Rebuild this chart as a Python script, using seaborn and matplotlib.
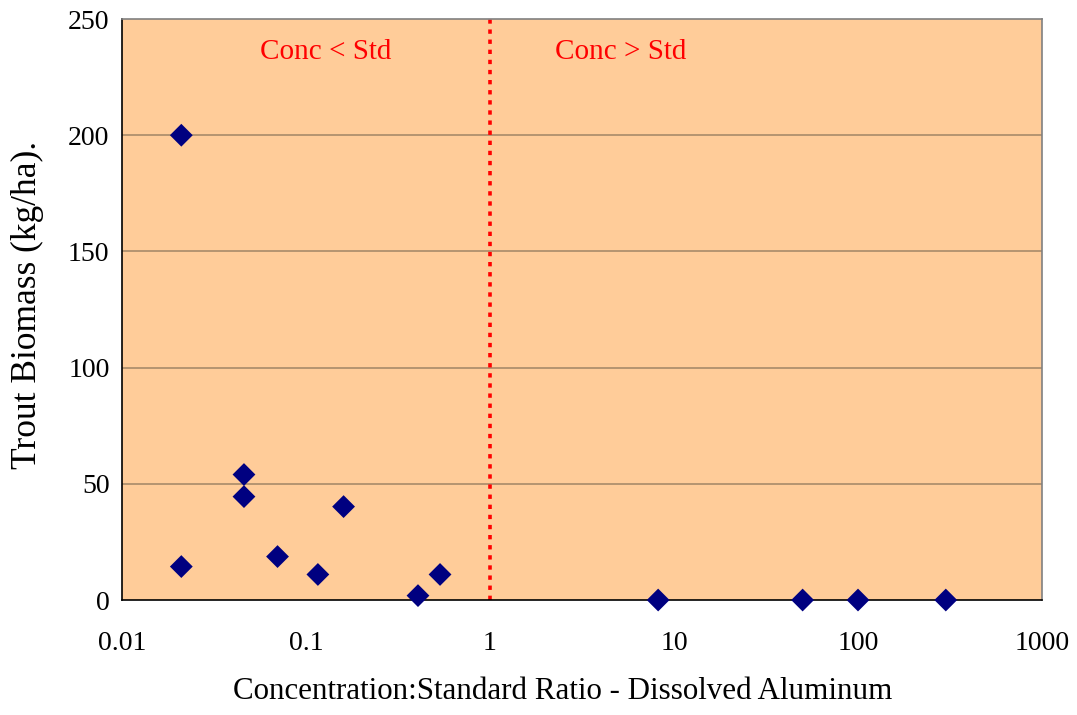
import matplotlib
matplotlib.use("Agg")
import matplotlib.pyplot as plt
import seaborn as sns
import pandas as pd

# Concentration:standard ratio for dissolved aluminum and trout biomass per site
ratio = [0.021, 0.021, 0.046, 0.046, 0.07, 0.116, 0.16, 0.406, 0.535,
         8.2, 50, 100, 300]
biomass = [200, 14.4, 54, 44.5, 18.7, 11, 40.2, 1.9, 11,
           0, 0, 0, 0]
x_ticks = [0.01, 0.1, 1, 10, 100, 1000]
x_tick_labels = ["0.01", "0.1", "1", "10", "100", "1000"]
y_ticks = [0, 50, 100, 150, 200, 250]
standard_ratio = 1

df = pd.DataFrame({"ratio": ratio, "biomass": biomass})

sns.set_theme(style="white")
plt.rcParams["font.family"] = ["Liberation Serif", "DejaVu Serif"]
plt.rcParams["text.color"] = "black"
plt.rcParams["axes.labelcolor"] = "black"
plt.rcParams["xtick.color"] = "black"
plt.rcParams["ytick.color"] = "black"

fig = plt.figure(figsize=(10.77, 7.15), dpi=100)
ax = fig.add_axes([0.1133, 0.1608, 0.8542, 0.8126])
ax.set_facecolor("#FFCC99")

for y in y_ticks[1:-1]:
    ax.axhline(y, color="#A88A6A", lw=1.2, zorder=1)

ax.axvline(standard_ratio, color="#FF0000", lw=2.6, dashes=(1.2, 1.6), zorder=2)

sns.scatterplot(data=df, x="ratio", y="biomass", marker="D", s=135,
                color="#000080", edgecolor="none", ax=ax, zorder=3,
                clip_on=False)

ax.set_xscale("log")
ax.set_xlim(0.01, 1000)
ax.set_ylim(0, 250)
ax.set_xticks(x_ticks)
ax.set_xticklabels(x_tick_labels)
ax.xaxis.set_minor_locator(matplotlib.ticker.NullLocator())
ax.set_yticks(y_ticks)

ax.tick_params(axis="both", which="major", direction="out", length=6,
               width=1, color="black", labelcolor="black", labelsize=20)
ax.tick_params(axis="y", pad=3)
ax.tick_params(axis="x", pad=16)

for side in ("left", "bottom"):
    ax.spines[side].set_color("black")
    ax.spines[side].set_linewidth(1.2)
for side in ("top", "right"):
    ax.spines[side].set_color("#808080")
    ax.spines[side].set_linewidth(1.2)

ax.set_xlabel("Concentration:Standard Ratio - Dissolved Aluminum",
              fontsize=22.3, va="center")
ax.xaxis.set_label_coords(0.479, -0.158)
ax.set_ylabel("Trout Biomass (kg/ha).", fontsize=25.5, va="center")
ax.yaxis.set_label_coords(-0.103, 0.508)

ax.text(0.128, 236, "Conc < Std", color="#FF0000", fontsize=21,
        ha="center", va="center")
ax.text(5.1, 236, "Conc > Std", color="#FF0000", fontsize=21,
        ha="center", va="center")

fig.savefig("out.png", dpi=100, facecolor="white")
